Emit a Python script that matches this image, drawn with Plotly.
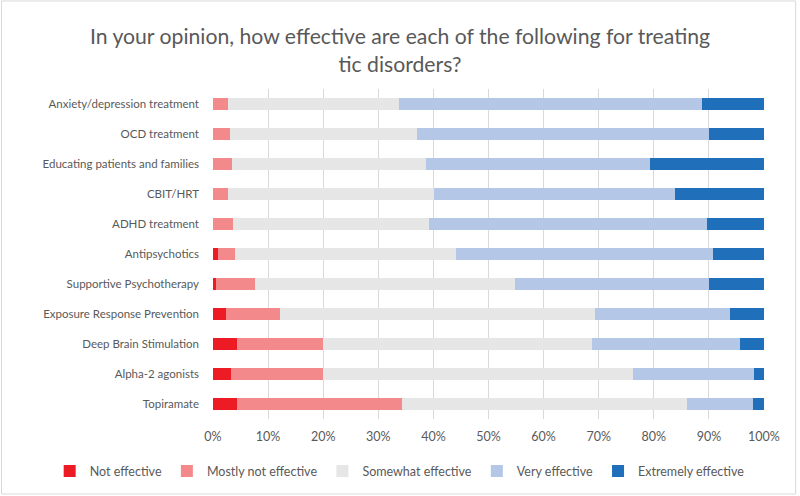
import plotly.graph_objects as go

categories = [
    "Anxiety/depression treatment",
    "OCD treatment",
    "Educating patients and families",
    "CBIT/HRT",
    "ADHD treatment",
    "Antipsychotics",
    "Supportive Psychotherapy",
    "Exposure Response Prevention",
    "Deep Brain Stimulation",
    "Alpha-2 agonists",
    "Topiramate",
]

series_names = ["Not effective", "Mostly not effective", "Somewhat effective",
                "Very effective", "Extremely effective"]

not_effective = [0.0, 0.0, 0.0, 0.0, 0.0, 0.85, 0.5, 2.3, 4.4, 3.2, 4.4]
mostly_not = [2.7, 3.15, 3.45, 2.67, 3.63, 3.1, 7.2, 9.8, 15.6, 16.8, 29.9]
somewhat = [31.1, 33.95, 35.15, 37.5, 35.6, 40.1, 47.1, 57.2, 48.8, 56.2, 51.7]
very = [55.0, 53.0, 40.8, 43.6, 50.5, 46.7, 35.2, 24.6, 26.8, 21.9, 12.0]
extremely = [11.2, 9.9, 20.6, 16.2, 10.3, 9.3, 10.0, 6.1, 4.4, 1.9, 2.0]

colors = ["#ED1C24", "#F4898B", "#E7E6E6", "#B4C7E7", "#1F6FBA"]
values = [not_effective, mostly_not, somewhat, very, extremely]

FONT = "Lato"
TXT = "#595959"

fig = go.Figure()
for name, vals, col in zip(series_names, values, colors):
    fig.add_trace(go.Bar(
        y=categories, x=vals, name=name, orientation="h",
        marker=dict(color=col, line=dict(width=0)),
    ))

fig.update_layout(
    barmode="stack",
    bargap=0.6,
    width=800, height=496,
    margin=dict(l=213, r=36, t=89, b=77, autoexpand=False),
    paper_bgcolor="white", plot_bgcolor="white",
    font=dict(family=FONT, size=12, color=TXT),
    title=dict(
        text="In your opinion, how effective are each of the following for treating<br>tic disorders?",
        x=0.5, xref="container", xanchor="center",
        y=0.911, yref="container", yanchor="middle",
        font=dict(family=FONT, size=21.2, color=TXT),
    ),
    xaxis=dict(
        range=[0, 100], dtick=10, ticksuffix="%",
        showgrid=True, gridcolor="#D9D9D9", gridwidth=1,
        zeroline=False, showline=False, ticks="",
        ticklabelstandoff=8, automargin=False,
        tickfont=dict(family=FONT, size=12.5, color=TXT),
    ),
    yaxis=dict(
        autorange="reversed", showgrid=False, zeroline=False, showline=False,
        ticks="", ticklabelstandoff=13, automargin=False,
        tickfont=dict(family=FONT, size=11.5, color=TXT),
    ),
    legend=dict(
        orientation="h", xref="paper", x=-0.2964, xanchor="left",
        yref="paper", y=-0.159, yanchor="middle",
        font=dict(family=FONT, size=12.5, color=TXT),
        itemwidth=30, traceorder="normal",
    ),
    showlegend=True,
)

fig.add_shape(type="rect", xref="paper", yref="paper",
              x0=-0.3838, x1=1.0574, y0=-0.2273, y1=1.2667,
              line=dict(color="#D9D9D9", width=1), fillcolor="rgba(0,0,0,0)",
              layer="below")

fig.write_html("out.html", config={"displayModeBar": False},
               post_script="document.body.style.margin='0';")
